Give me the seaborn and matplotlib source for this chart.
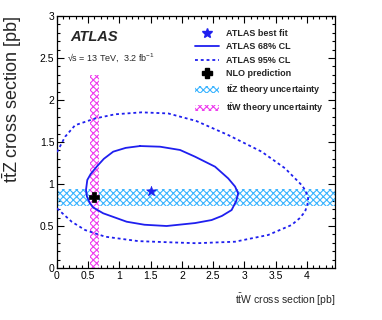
import numpy as np
import pandas as pd
import matplotlib
matplotlib.use("Agg")
import matplotlib.pyplot as plt
import matplotlib.patches as mpatches
from matplotlib.lines import Line2D
from matplotlib.ticker import MultipleLocator
import seaborn as sns

## Data
# 68% CL contour (ttW, ttZ) in pb
cl68_x = [1.33, 1.65, 1.97, 2.21, 2.53, 2.74, 2.85, 2.90, 2.87, 2.795, 2.64, 2.475, 2.21, 1.755,
          1.40, 1.115, 0.74, 0.58, 0.528, 0.48, 0.464, 0.485, 0.54, 0.635, 0.75, 0.90, 1.10, 1.33]
cl68_y = [1.452, 1.444, 1.405, 1.325, 1.206, 1.067, 0.97, 0.889, 0.80, 0.69, 0.62, 0.571, 0.535,
          0.50, 0.515, 0.551, 0.651, 0.72, 0.77, 0.85, 0.929, 1.048, 1.12, 1.206, 1.30, 1.385,
          1.43, 1.452]
# 95% CL contour (clipped at ttW = 0)
cl95_x = [0.00, 0.13, 0.29, 0.61, 0.93, 1.355, 1.78, 2.23, 2.74, 3.275, 3.65, 3.915, 3.98, 4.02,
          4.01, 3.97, 3.88, 3.755, 3.38, 2.85, 2.23, 1.835, 1.30, 0.77, 0.45, 0.235, 0.00]
cl95_y = [1.38, 1.563, 1.70, 1.78, 1.83, 1.853, 1.84, 1.75, 1.583, 1.385, 1.187, 0.988, 0.92,
          0.83, 0.76, 0.67, 0.59, 0.512, 0.393, 0.313, 0.295, 0.305, 0.32, 0.373, 0.452, 0.551,
          0.71]

best_fit = (1.50, 0.92)
nlo = (0.60, 0.84)
ttz_band = (0.74, 0.94)   # ttZ theory uncertainty
ttw_band = (0.53, 0.67)   # ttW theory uncertainty
ttw_band_top = 2.3

x_max, y_max = 4.45, 3.0

## Style
sns.set_style("ticks")
plt.rcParams["font.family"] = ["Liberation Sans", "DejaVu Sans"]
plt.rcParams["hatch.linewidth"] = 0.8
plt.rcParams["mathtext.fontset"] = "custom"
plt.rcParams["mathtext.rm"] = "Liberation Sans"
plt.rcParams["mathtext.bf"] = "Liberation Sans:bold"

blue = "#1f1fef"
cyan = "#3ab4ff"
magenta = "#ee3cee"
hatch = "xxxxx"
dash = (0, (1.6, 1.6))

fig = plt.figure(figsize=(3.82, 3.2), dpi=100)
ax = fig.add_axes([57 / 382, 52 / 320, 278 / 382, 252 / 320])

## Theory bands
ax.fill_between([0, x_max], ttz_band[0], ttz_band[1], facecolor="none",
                edgecolor=cyan, hatch=hatch, linewidth=0, zorder=1)
ax.fill_betweenx([0, ttw_band_top], ttw_band[0], ttw_band[1], facecolor="white",
                 edgecolor=magenta, hatch=hatch, linewidth=0, zorder=1.5)

## Contours
df68 = pd.DataFrame({"x": cl68_x, "y": cl68_y})
df95 = pd.DataFrame({"x": cl95_x, "y": cl95_y})
sns.lineplot(data=df68, x="x", y="y", sort=False, estimator=None, color=blue,
             linewidth=1.3, ax=ax, zorder=3)
sns.lineplot(data=df95, x="x", y="y", sort=False, estimator=None, color=blue,
             linewidth=1.3, linestyle=dash, ax=ax, zorder=3)

## Points
sns.scatterplot(x=[best_fit[0]], y=[best_fit[1]], marker="*", s=55, color=blue,
                edgecolor=blue, linewidth=0.5, ax=ax, zorder=4)
sns.scatterplot(x=[nlo[0]], y=[nlo[1]], marker="P", s=50, color="black",
                edgecolor="black", linewidth=0.5, ax=ax, zorder=4)

## Axes
ax.set_xlim(0, x_max)
ax.set_ylim(0, y_max)
ax.xaxis.set_minor_locator(MultipleLocator(0.1))
ax.yaxis.set_minor_locator(MultipleLocator(0.1))
ax.set_xticks(np.arange(0, 4.01, 0.5))
ax.set_xticklabels(["0", "0.5", "1", "1.5", "2", "2.5", "3", "3.5", "4"])
ax.set_yticks(np.arange(0, 3.01, 0.5))
ax.set_yticklabels(["0", "0.5", "1", "1.5", "2", "2.5", "3"])
ax.tick_params(which="both", direction="in", top=True, right=True, width=0.8,
               labelsize=7.5, colors="black")
ax.tick_params(which="major", length=5, pad=2)
ax.tick_params(which="minor", length=2.5)
for s in ax.spines.values():
    s.set_linewidth(0.9)
    s.set_color("black")

ax.set_xlabel(r"t$\bar{\rm t}$W cross section [pb]", loc="right", fontsize=7.5, labelpad=8)
ax.set_ylabel(r"t$\bar{\rm t}$Z cross section [pb]", loc="top", fontsize=13, labelpad=11)

## Labels
ax.text(0.21, 2.75, "ATLAS", fontsize=10.5, fontweight="bold", fontstyle="italic",
        va="center", ha="left")
ax.text(0.16, 2.5, "\u221as = 13 TeV,  3.2 fb$^{-1}$", fontsize=6.5, va="center", ha="left")

## Legend
handles = [
    Line2D([], [], linestyle="none", marker="*", markersize=7, color=blue),
    Line2D([], [], color=blue, linewidth=1.3),
    Line2D([], [], color=blue, linewidth=1.3, linestyle=dash),
    Line2D([], [], linestyle="none", marker="P", markersize=7, color="black"),
    mpatches.Patch(facecolor="white", edgecolor=cyan, hatch=hatch, linewidth=0),
    mpatches.Patch(facecolor="white", edgecolor=magenta, hatch=hatch, linewidth=0),
]
labels = ["ATLAS best fit", "ATLAS 68% CL", "ATLAS 95% CL", "NLO prediction",
          r"t$\bar{\mathbf{t}}$Z theory uncertainty", r"t$\bar{\mathbf{t}}$W theory uncertainty"]
leg = ax.legend(handles, labels, loc="upper left", bbox_to_anchor=(0.485, 0.963),
                frameon=False, handlelength=2.6, handleheight=0.7, handletextpad=0.75,
                labelspacing=0.5, borderaxespad=0, prop={"size": 6.5, "weight": "bold"})

fig.savefig("out.png", dpi=100)
